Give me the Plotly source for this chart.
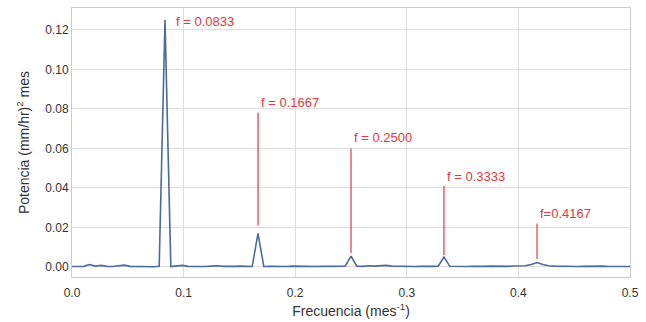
import plotly.graph_objects as go

# Frequencies k/192 for k = 0..96 (cycles per month)
N = 192
freq = [k / N for k in range(97)]
power = [
    0.0002, 0.0001, 0.0003, 0.0012, 0.0004, 0.0008, 0.0003, 0.0002, 0.0006, 0.0009,
    0.0003, 0.0002, 0.0003, 0.0002, 0.0001, 0.0003, 0.1250, 0.0002, 0.0004, 0.0008,
    0.0003, 0.0002, 0.0003, 0.0002, 0.0004, 0.0006, 0.0003, 0.0002, 0.0003, 0.0004,
    0.0003, 0.0002, 0.0170, 0.0002, 0.0003, 0.0002, 0.0003, 0.0002, 0.0004, 0.0003,
    0.0002, 0.0003, 0.0002, 0.0003, 0.0004, 0.0002, 0.0003, 0.0004, 0.0055, 0.0004,
    0.0003, 0.0006, 0.0004, 0.0005, 0.0008, 0.0004, 0.0003, 0.0002, 0.0003, 0.0002,
    0.0003, 0.0002, 0.0003, 0.0004, 0.0050, 0.0003, 0.0002, 0.0003, 0.0002, 0.0003,
    0.0002, 0.0003, 0.0004, 0.0003, 0.0002, 0.0003, 0.0005, 0.0004, 0.0006, 0.0012,
    0.0022, 0.0012, 0.0006, 0.0004, 0.0003, 0.0004, 0.0003, 0.0002, 0.0003, 0.0004,
    0.0005, 0.0004, 0.0003, 0.0002, 0.0004, 0.0003, 0.0002,
]

# Annotations: peak frequency, label, line top, line bottom, text y
ann_x = [0.0833, 0.1667, 0.2500, 0.3333, 0.4167]
ann_text = ["f = 0.0833", "f = 0.1667", "f = 0.2500", "f = 0.3333", "f=0.4167"]
line_top = [None, 0.078, 0.060, 0.041, 0.022]
line_bot = [None, 0.021, 0.007, 0.006, 0.004]
text_y = [0.1245, 0.0835, 0.0655, 0.0460, 0.0270]
text_dx = [0.008, 0.001, 0.001, 0.001, 0.001]

RED = "#e0393e"
fig = go.Figure()
fig.add_trace(go.Scatter(x=freq, y=power, mode="lines",
                         line=dict(color="#4a6aa0", width=1.6), showlegend=False))

for i in range(len(ann_x)):
    if line_top[i] is not None:
        fig.add_shape(type="line", x0=ann_x[i], x1=ann_x[i], y0=line_bot[i], y1=line_top[i],
                      xref="x", yref="y", line=dict(color=RED, width=1.2))
    fig.add_annotation(x=ann_x[i] + text_dx[i], y=text_y[i], text=ann_text[i],
                       showarrow=False, xanchor="left", yanchor="middle",
                       font=dict(color=RED, size=13, family="Liberation Sans, Arial"))

fig.update_layout(
    width=646, height=322,
    margin=dict(l=72, r=16, t=8, b=45),
    paper_bgcolor="white", plot_bgcolor="white",
    font=dict(family="Liberation Sans, Arial", size=12, color="#333333"),
)
fig.update_xaxes(range=[0, 0.5], dtick=0.1, tickformat=".1f", automargin=False,
                 showgrid=True, gridcolor="#dddddd", gridwidth=1,
                 showline=True, linecolor="#cccccc", mirror=True, zeroline=False,
                 ticks="", ticklabelstandoff=5,
                 title=dict(text="Frecuencia (mes<sup>-1</sup>)", standoff=6))
fig.update_yaxes(range=[-0.0051, 0.1311], dtick=0.02, tickformat=".2f", automargin=False,
                 showgrid=True, gridcolor="#dddddd", gridwidth=1,
                 showline=True, linecolor="#cccccc", mirror=True, zeroline=False,
                 ticks="", title=dict(text="Potencia (mm/hr)<sup>2</sup> mes", standoff=12))

fig.write_html("out.html")
